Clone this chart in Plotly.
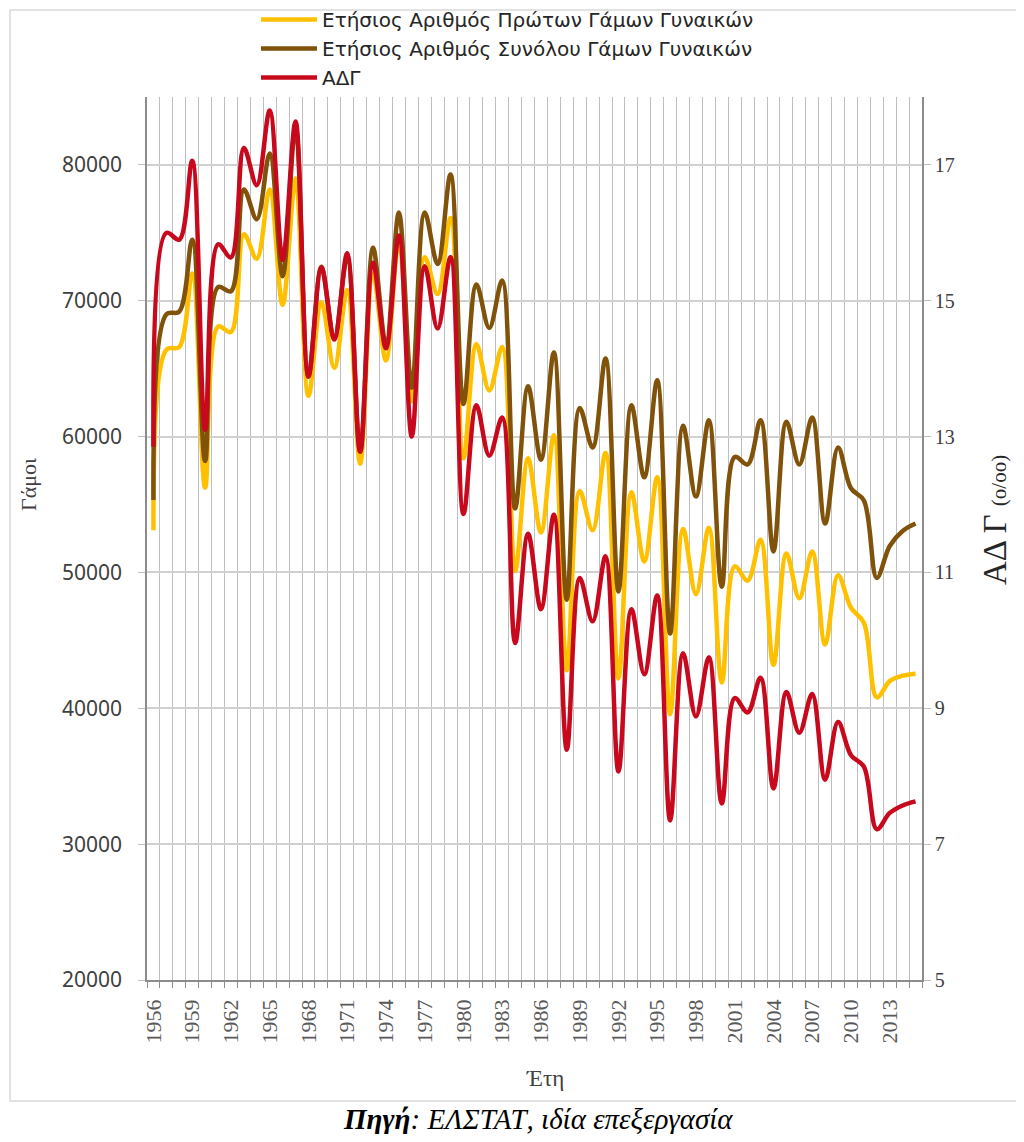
import plotly.graph_objects as go

years = list(range(1956, 2016))

first_marriages = [
    53100, 66400, 66600, 72000, 56250, 68100, 67700, 74900, 73100, 78200,
    69700, 79000, 63000, 69900, 65060, 70800, 58000, 72000, 65600, 74500,
    62600, 73200, 70500, 76100, 58400, 66800, 63400, 66600, 50100, 58400,
    52950, 60100, 42800, 56000, 53100, 58800, 42200, 55900, 50800, 57000,
    39560, 53200, 48400, 53300, 41900, 50450, 49400, 52400, 43200, 51400,
    48100, 51550, 44700, 49800, 47400, 46300, 40800, 42000, 42400, 42550,
]

total_marriages = [
    55330, 69000, 69200, 74500, 58200, 71000, 70700, 78200, 76000, 80840,
    71800, 82800, 64500, 72500, 67300, 73200, 58900, 73900, 66800, 76500,
    63600, 76500, 72700, 79300, 62400, 71200, 68000, 71500, 54700, 63700,
    58300, 66200, 48000, 62100, 59200, 65750, 48600, 62300, 57000, 64150,
    45500, 60800, 55600, 61200, 48950, 58500, 57950, 61200, 51550, 61100,
    57950, 61400, 53600, 59200, 56200, 55300, 49600, 51950, 53050, 53600,
]

adg = [
    12.85, 16.0, 15.9, 17.06, 13.1, 15.83, 15.64, 17.25, 16.7, 17.8,
    15.6, 17.64, 13.88, 15.49, 14.43, 15.70, 12.78, 15.56, 14.30, 15.96,
    13.0, 15.51, 14.59, 15.64, 11.86, 13.46, 12.72, 13.28, 9.96, 11.57,
    10.46, 11.85, 8.39, 10.92, 10.28, 11.24, 8.07, 10.46, 9.5, 10.66,
    7.35, 9.81, 8.88, 9.75, 7.6, 9.15, 8.94, 9.45, 7.82, 9.24,
    8.64, 9.21, 7.95, 8.8, 8.31, 8.14, 7.22, 7.46, 7.57, 7.63,
]

tick_years = list(range(1956, 2014, 3))
tick_labels = [str(y) for y in tick_years]

series_names = [
    "Ετήσιος Αριθμός Πρώτων Γάμων Γυναικών",
    "Ετήσιος Αριθμός Συνόλου Γάμων Γυναικών",
    "ΑΔΓ",
]

YELLOW = "#FFC000"
BROWN = "#80520A"
RED = "#C8081C"

# page has an 8px body margin; work in figure coordinates (screen - 8)
OFF = 8
W, H = 1024 - 2 * OFF, 1142 - 2 * OFF
L, R, T, B = 147 - OFF, 922 - OFF, 97 - OFF, 980 - OFF


def px_x(s):  # screen px -> paper x
    return (s - OFF - L) / (R - L)


def px_y(s):  # screen px -> paper y
    return (B - (s - OFF)) / (B - T)


fig = go.Figure()
fig.add_trace(go.Scatter(x=years, y=first_marriages, name=series_names[0],
                         mode="lines", line=dict(color=YELLOW, width=4.5, shape="spline", smoothing=1)))
fig.add_trace(go.Scatter(x=years, y=total_marriages, name=series_names[1],
                         mode="lines", line=dict(color=BROWN, width=4.5, shape="spline", smoothing=1)))
fig.add_trace(go.Scatter(x=years, y=adg, name=series_names[2], yaxis="y2",
                         mode="lines", line=dict(color=RED, width=4.5, shape="spline", smoothing=1)))

SERIF = "Liberation Serif"
SANS = "DejaVu Sans"

fig.update_layout(
    width=W, height=H,
    margin=dict(l=L, r=W - R, t=T, b=H - B, autoexpand=False),
    paper_bgcolor="white", plot_bgcolor="white",
    showlegend=True,
    legend=dict(
        xref="paper", yref="paper",
        x=px_x(256), y=px_y(0), xanchor="left", yanchor="top",
        font=dict(family=SANS, size=20, color="#262626"),
        itemwidth=56, bgcolor="rgba(0,0,0,0)", traceorder="normal",
    ),
    xaxis=dict(
        range=[1955.5, 2015.5],
        tickmode="array", tickvals=tick_years, ticktext=tick_labels,
        tickangle=-90,
        tickfont=dict(family=SERIF, size=22, color="#595959"),
        ticks="outside", ticklen=9, tickcolor="rgba(0,0,0,0)",
        showgrid=False, zeroline=False,
        showline=True, linecolor="#8C8C8C", linewidth=1.5,
        minor=dict(tickmode="linear", tick0=1955.5, dtick=1,
                   ticks="outside", ticklen=6, tickcolor="#8C8C8C",
                   showgrid=True, gridcolor="#BFBFBF", gridwidth=1),
    ),
    yaxis=dict(
        range=[20000, 85000], tickmode="linear", tick0=20000, dtick=10000,
        tickfont=dict(family="Noto Sans", size=21, color="#404040"),
        ticks="outside", ticklen=7, tickcolor="#BFBFBF",
        ticklabelstandoff=12,
        showgrid=True, gridcolor="#D0D0D0", gridwidth=1.5,
        zeroline=False, showline=True, linecolor="#8C8C8C", linewidth=1.5,
        tickformat="d",
    ),
    yaxis2=dict(
        range=[5, 18], tickmode="linear", tick0=5, dtick=2,
        overlaying="y", side="right",
        tickfont=dict(family=SERIF, size=20, color="#404040"),
        ticks="outside", ticklen=7, tickcolor="#BFBFBF",
        showgrid=False, zeroline=False,
        showline=True, linecolor="#8C8C8C", linewidth=1.5,
    ),
)

annotations = [
    dict(text="Γάμοι", x=px_x(28), y=px_y(485), xref="paper", yref="paper",
         xanchor="center", yanchor="middle",
         textangle=-90, showarrow=False, font=dict(family=SERIF, size=22, color="#404040")),
    dict(text="ΑΔ Γ <span style='font-size:21px'>(o/oo)</span>", x=px_x(995), y=px_y(520),
         xref="paper", yref="paper", xanchor="center", yanchor="middle",
         textangle=-90, showarrow=False,
         font=dict(family=SERIF, size=33, color="#262626")),
    dict(text="Έτη", x=px_x(545), y=px_y(1078), xref="paper", yref="paper",
         xanchor="center", yanchor="middle",
         showarrow=False, font=dict(family=SERIF, size=23, color="#404040")),
    dict(text="<b><i>Πηγή</i></b><i>: ΕΛΣΤΑΤ, ιδία επεξεργασία</i>",
         x=px_x(538), y=px_y(1119), xref="paper", yref="paper",
         xanchor="center", yanchor="middle",
         showarrow=False, font=dict(family=SERIF, size=29, color="black")),
]
fig.update_layout(annotations=annotations)

fig.add_shape(type="rect", xref="paper", yref="paper",
              x0=px_x(10), x1=px_x(1021), y0=px_y(1101), y1=px_y(10),
              line=dict(color="#D9D9D9", width=1.5), fillcolor="rgba(0,0,0,0)", layer="below")

fig.write_html("out.html")
